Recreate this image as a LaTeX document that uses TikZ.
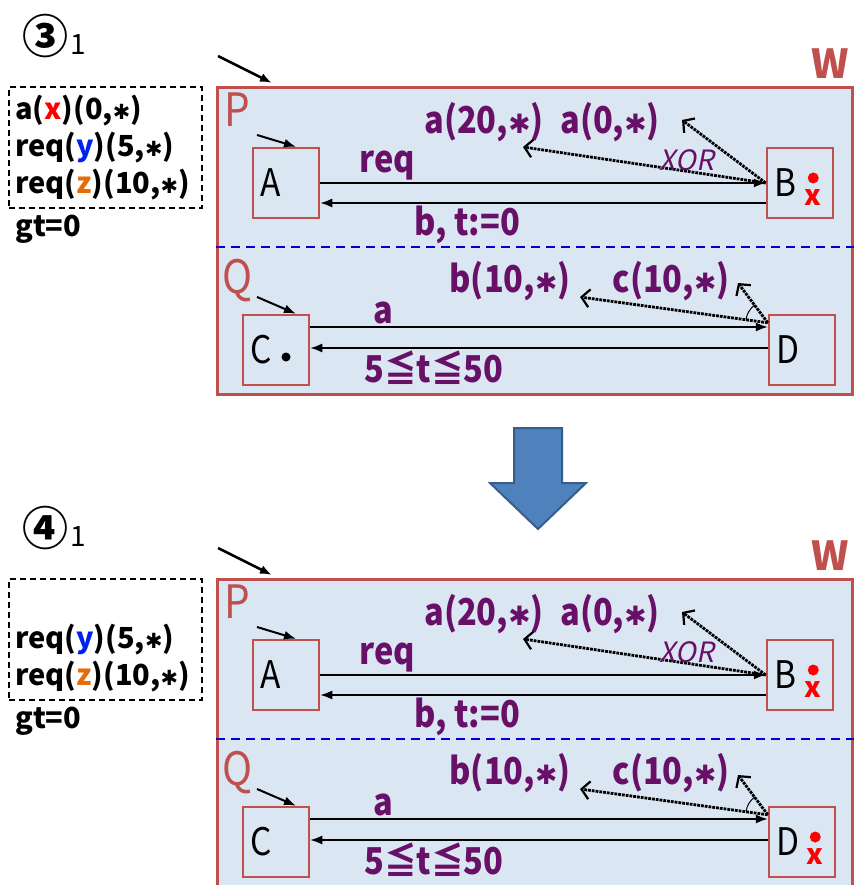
\documentclass[tikz,border=0pt]{standalone}
\usepackage{fontspec}
\setmainfont{Noto Sans CJK JP}
\newfontfamily\slantfont[FakeSlant=0.2]{Noto Sans CJK JP}
\newfontfamily\condfont[FakeStretch=0.88]{Noto Sans CJK JP}
\newfontfamily\symfont{DejaVu Sans}
\usetikzlibrary{arrows.meta,calc,positioning}
\definecolor{wred}{RGB}{192,80,77}
\definecolor{wfill}{RGB}{219,230,243}
\definecolor{lblpurple}{RGB}{104,16,104}
\definecolor{sepblue}{RGB}{0,0,204}
\definecolor{varblue}{RGB}{0,32,240}
\definecolor{varorange}{RGB}{228,108,10}
\definecolor{arrowblue}{RGB}{79,129,189}
\definecolor{arrowedge}{RGB}{56,93,138}
\newcommand{\fs}[1]{\fontsize{#1}{#1}\selectfont}
\newcommand{\st}{{\symfont\scalebox{0.72}{✱}}}
% red token dot with its variable below
\newcommand{\tokenmark}[1]{%
  \fill[red] ([xshift=-21pt,yshift=5pt]#1.east) circle (5.5pt);
  \node[font=\fs{28}\bfseries, text=red, inner sep=0pt] (#1x) at ([xshift=-21pt,yshift=-15pt]#1.east) {x};}
% one state of the system: #1 suffix, #2 step, #3 first buffer line, #4 marks
\newcommand{\statepanel}[4]{%
  \node[stepnum] (num#1) at (45,36) {#2};
  \node[font=\fs{28}, inner sep=0pt] (sub#1) at (78,45) {1};
  \node[buffer] (buf#1) at (8,86)
    {#3\\req(\textcolor{varblue}{y})(5,\st)\\req(\textcolor{varorange}{z})(10,\st)};
  \node[buftext, anchor=north west] (gt#1) at ([xshift=7pt,yshift=-6pt]buf#1.south west) {gt=0};
  % system W
  \node[system] (W#1) at (216,86) {};
  \node[font=\fs{40}\bfseries, text=wred, inner sep=0pt] (Wl#1) at (830,64) {W};
  \coordinate (Win#1) at (218,56);
  \draw[initarr, line width=2.5pt] (Win#1) -- ([xshift=56pt,yshift=3pt]W#1.north west);
  \node[comp] (Pl#1) at (237,110) {P};
  \node[comp] (Ql#1) at (238,281) {Q};
  \draw[divider] ([yshift=-161pt]W#1.north west) -- ([yshift=-161pt]W#1.north east);
  % locations
  \node[loc] (A#1) at (286,183) {A};
  \node[loc] (B#1) at (800,183) {B};
  \node[loc] (C#1) at (276,350) {C};
  \node[loc] (D#1) at (802,350) {D};
  \coordinate (Ain#1) at (257,135);
  \coordinate (Cin#1) at (257,297);
  \draw[initarr] (Ain#1) -- ([xshift=10pt]A#1.north);
  \draw[initarr] (Cin#1) -- ([xshift=20pt]C#1.north);
  % transitions
  \draw[transarr] (A#1.east) -- node[lbl, above, pos=0.15] (req#1) {req} (B#1.west);
  \draw[transarr] ([yshift=-20pt]B#1.west) -- node[lbl, below, pos=0.67] (bt#1) {b, t:=0} ([yshift=-20pt]A#1.east);
  \draw[transarr] ([yshift=23pt]C#1.east) -- node[lbl, above, pos=0.16] (a#1) {a} ([yshift=23pt]D#1.west);
  \draw[transarr] ([yshift=2pt]D#1.west) -- node[lbl, below, pos=0.73] (tt#1) {5≦t≦50} ([yshift=2pt]C#1.east);
  % outputs of P
  \node[lbl] (o1#1) at (484,122) {a(20,\st)};
  \node[lbl] (o2#1) at (610,122) {a(0,\st)};
  \coordinate (e1#1) at (523,147);
  \coordinate (e2#1) at (682,120);
  \draw[emit] (B#1.west) -- (e1#1);
  \draw[emit] (B#1.west) -- (e2#1);
  \node[xorlbl] (xor#1) at (687,160) {XOR};
  % outputs of Q
  \node[lbl] (o3#1) at (510,281) {b(10,\st)};
  \node[lbl] (o4#1) at (671,281) {c(10,\st)};
  \coordinate (Dout#1) at ([yshift=-9pt]D#1.north west);
  \coordinate (e3#1) at (580,297);
  \coordinate (e4#1) at (738,283);
  \draw[emit] (Dout#1) -- (e3#1);
  \draw[emit] (Dout#1) -- (e4#1);
  \draw[line width=1pt] (Dout#1) ++(171:22pt) arc (171:126:22pt);
  #4}

\begin{document}
\begin{tikzpicture}[x=1pt, y=-1pt,
  >=Latex,
  stepnum/.style={font=\fs{46}\bfseries, inner sep=0pt},
  buffer/.style={draw, line width=1.8pt, dash pattern=on 6pt off 4pt, anchor=north west,
                 minimum width=193pt, minimum height=121pt, text width=180pt, inner xsep=6pt,
                 align=left, font=\fontsize{29}{37}\selectfont\bfseries},
  buftext/.style={font=\fs{29}\bfseries, inner sep=0pt},
  system/.style={draw=wred, fill=wfill, line width=3pt, anchor=north west,
                 minimum width=635pt, minimum height=307pt},
  comp/.style={text=wred, font=\fs{46}\condfont, inner sep=0pt},
  divider/.style={sepblue, line width=1.8pt, dash pattern=on 9pt off 6pt},
  loc/.style={draw=wred, fill=wfill, line width=2.5pt, minimum width=66pt, minimum height=70pt,
              text width=52pt, inner xsep=7pt, align=left, font=\fs{38}\condfont},
  initarr/.style={-{Latex[length=12pt,width=9pt]}, line width=2pt},
  transarr/.style={-{Latex[length=12pt,width=9pt]}, line width=1.6pt},
  lbl/.style={text=lblpurple, font=\fs{37}\condfont\bfseries, inner sep=2pt},
  xorlbl/.style={text=lblpurple, font=\fs{28}\slantfont, inner sep=0pt},
  emit/.style={densely dotted, line width=2.8pt, -{Straight Barb[length=8pt,width=18pt,line width=2.2pt]}}
]
  \useasboundingbox (0,0) rectangle (853,885);
  \statepanel{3}{③}{a(\textcolor{red}{x})(0,\st)}
    {\fill ([xshift=10pt,yshift=-7pt]C3.center) circle (4.5pt); \tokenmark{B3}}

  % step arrow
  \filldraw[fill=arrowblue, draw=arrowedge, line width=2pt]
    (514,428) -- (562,428) -- (562,483) -- (586,483) -- (538,529) -- (490,483) -- (514,483) -- cycle;

  \begin{scope}[yshift=-492pt]
    \statepanel{4}{④}{\phantom{a(x)(0,*)}}{\tokenmark{B4}\tokenmark{D4}}
  \end{scope}
\end{tikzpicture}
\end{document}
